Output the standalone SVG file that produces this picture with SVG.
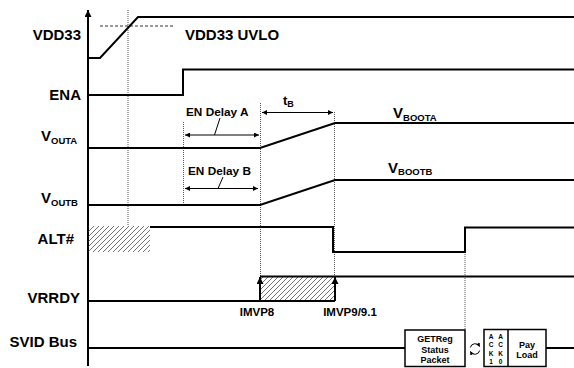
<svg xmlns="http://www.w3.org/2000/svg" width="574" height="368" viewBox="0 0 574 368">
<style>
text{font-family:"Liberation Sans",Arial,sans-serif;font-weight:bold;fill:#000}
.lbl{font-size:15px}
.sig{fill:none;stroke:#000;stroke-width:2}
.dot{fill:none;stroke:#555;stroke-width:1;stroke-dasharray:1,1}
.dim{fill:none;stroke:#000;stroke-width:1}
.box{fill:#fff;stroke:#000;stroke-width:1.5}
.sm{font-size:9px}
</style>
<defs>
<pattern id="hatch" patternUnits="userSpaceOnUse" width="5" height="5">
<path d="M-1,6 L6,-1" stroke="#333" stroke-width="0.7"/>
</pattern>
<marker id="ah" viewBox="0 0 10 10" refX="10" refY="5" markerWidth="7" markerHeight="5" orient="auto-start-reverse" markerUnits="userSpaceOnUse">
<path d="M0,0 L10,5 L0,10 z" fill="#000"/>
</marker>
<marker id="ahBig" viewBox="0 0 10 10" refX="10" refY="5" markerWidth="9" markerHeight="7" orient="auto" markerUnits="userSpaceOnUse">
<path d="M0,0 L10,5 L0,10 z" fill="#000"/>
</marker>
<marker id="ahs" viewBox="0 0 10 10" refX="8" refY="5" markerWidth="4" markerHeight="4" orient="auto" markerUnits="userSpaceOnUse">
<path d="M0,0 L10,5 L0,10 z" fill="#000"/>
</marker>
</defs>

<g id="axis">
<line x1="88" y1="366" x2="88" y2="10" stroke="#000" stroke-width="2" marker-end="url(#ahBig)"/>
</g>

<g id="labels">
<text class="lbl" x="81" y="40" text-anchor="end">VDD33</text>
<text class="lbl" x="81" y="99.5" text-anchor="end">ENA</text>
<text class="lbl" x="41" y="141">V<tspan font-size="9.5" dy="3">OUTA</tspan></text>
<text class="lbl" x="41" y="202.5">V<tspan font-size="9.5" dy="3">OUTB</tspan></text>
<text class="lbl" x="74" y="244" text-anchor="end">ALT#</text>
<text class="lbl" x="80" y="302.5" text-anchor="end">VRRDY</text>
<text class="lbl" x="77" y="347" text-anchor="end">SVID Bus</text>
</g>

<g id="guides">
<line class="dot" x1="128" y1="10" x2="128" y2="226"/>
<line class="dot" x1="183.5" y1="122" x2="183.5" y2="205"/>
<line class="dot" x1="260.5" y1="103" x2="260.5" y2="276"/>
<line class="dot" x1="334.5" y1="112" x2="334.5" y2="276"/>
<line class="dot" x1="465" y1="252" x2="465" y2="330"/>
<line x1="100" y1="26" x2="173" y2="26" stroke="#333" stroke-width="1" stroke-dasharray="3,2"/>
</g>

<g id="vdd33">
<polyline class="sig" points="88,58 100,58 138,17 574,17"/>
<text class="lbl" x="185" y="40">VDD33 UVLO</text>
</g>

<g id="ena">
<polyline class="sig" points="88,95 183,95 183,69.5 574,69.5"/>
</g>

<g id="vouta">
<polyline class="sig" points="88,148 260,148 335,123 574,123"/>
<text class="lbl" x="393" y="118">V<tspan font-size="9.5" dy="2.5">BOOTA</tspan></text>
</g>

<g id="voutb">
<polyline class="sig" points="88,205 260,205 335,180 574,180"/>
<text class="lbl" x="388" y="172.5">V<tspan font-size="9.5" dy="2.5">BOOTB</tspan></text>
</g>

<g id="alt">
<rect x="88" y="226" width="62" height="26" fill="url(#hatch)"/>
<polyline class="sig" points="150,227 333,227 333,252 465,252 465,227.5 574,227.5"/>
</g>

<g id="vrrdy">
<rect x="260" y="276" width="75" height="25" fill="url(#hatch)"/>
<polyline class="sig" points="88,301 335,301"/>
<polyline class="sig" points="260,276.5 574,276.5"/>
<text x="257" y="316" font-size="11.5" text-anchor="middle">IMVP8</text>
<text x="350" y="316" font-size="11.5" text-anchor="middle">IMVP9/9.1</text>
</g>

<g id="svid">
<line class="sig" x1="88" y1="348" x2="405" y2="348"/>
<line class="sig" x1="546" y1="348" x2="574" y2="348"/>
<rect class="box" x="405" y="330" width="60" height="36.5"/>
<text class="sm" x="435" y="342" text-anchor="middle">GETReg</text>
<text class="sm" x="435" y="352.5" text-anchor="middle">Status</text>
<text class="sm" x="435" y="363" text-anchor="middle">Packet</text>
<rect class="box" x="484" y="329.5" width="62" height="37"/>
<line x1="508" y1="329.5" x2="508" y2="366.5" stroke="#000" stroke-width="1.5"/>
<g font-size="6.5" text-anchor="middle">
<text x="491" y="338.5">A</text><text x="491" y="347">C</text><text x="491" y="355.5">K</text><text x="491" y="364">1</text>
<text x="500.5" y="338.5">A</text><text x="500.5" y="347">C</text><text x="500.5" y="355.5">K</text><text x="500.5" y="364">0</text>
</g>
<text class="sm" x="527" y="348" text-anchor="middle">Pay</text>
<text class="sm" x="527" y="358" text-anchor="middle">Load</text>
<path d="M470.3,347.5 A5,5 0 0 1 479.5,346.2" fill="none" stroke="#000" stroke-width="1" marker-end="url(#ahs)"/>
<path d="M479.7,350.5 A5,5 0 0 1 470.5,351.8" fill="none" stroke="#000" stroke-width="1" marker-end="url(#ahs)"/>
</g>

<g id="connectors">
<line x1="260" y1="301" x2="260" y2="277" stroke="#000" stroke-width="2" marker-end="url(#ahBig)"/>
<line x1="335" y1="301" x2="335" y2="277" stroke="#000" stroke-width="2" marker-end="url(#ahBig)"/>
<line class="dim" x1="185" y1="135" x2="259" y2="135" marker-start="url(#ah)" marker-end="url(#ah)"/>
<line class="dim" x1="220" y1="118" x2="214.5" y2="135"/>
<line class="dim" x1="185" y1="188.5" x2="258" y2="188.5" marker-start="url(#ah)" marker-end="url(#ah)"/>
<line class="dim" x1="223" y1="177" x2="218" y2="188.5"/>
<line class="dim" x1="262" y1="112.5" x2="333" y2="112.5" marker-start="url(#ah)" marker-end="url(#ah)"/>
<text x="186" y="116" font-size="11.8">EN Delay A</text>
<text x="188" y="175" font-size="11.8">EN Delay B</text>
<text x="283" y="105" font-size="13">t<tspan font-size="9" dy="2">B</tspan></text>
</g>
</svg>
